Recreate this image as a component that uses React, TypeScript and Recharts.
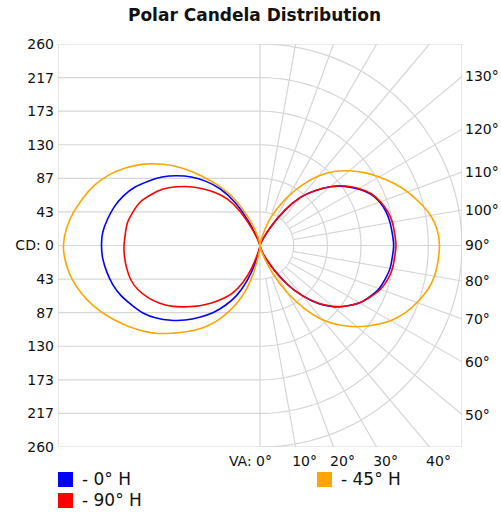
import React from 'react';
import { ScatterChart, Scatter, XAxis, YAxis } from 'recharts';

const FONT = '"DejaVu Sans", Verdana, sans-serif';

// vertical angles of the photometric data (0° = straight down, 180° = straight up)
const verticalAngles = [
  0, 5, 10, 15, 20, 25, 30, 35, 40, 45, 50, 55, 60, 65, 70, 75, 80, 85, 90,
  95, 100, 105, 110, 115, 120, 125, 130, 135, 140, 145, 150, 155, 160, 165, 170, 175, 180,
];

// candela, right half of the diagram
const cd0H = [0, 0, 0, 3, 10, 20, 37, 61, 84, 106, 123, 136, 148, 156, 163, 167, 170, 171, 172,
  171, 170, 168, 164, 157, 146, 133, 118, 100, 81, 55, 28, 10, 3, 0, 0, 0, 0];
const cd90H = [0, 0, 0, 3, 10, 20, 37, 61, 84, 105, 122, 136, 148, 157, 165, 170, 173, 174, 175,
  174, 173, 170, 165, 158, 147, 134, 118, 100, 81, 55, 28, 10, 3, 0, 0, 0, 0];
const cd45H = [0, 0, 1, 6, 19, 42, 70, 99, 125, 145, 163, 179, 194, 206, 215, 223, 228, 230, 231,
  229, 223, 213, 202, 190, 177, 164, 150, 135, 117, 96, 74, 53, 34, 15, 5, 0, 0];

// candela, left half (opposite planes)
const cd180H = [0, 1, 6, 22, 48, 71, 89, 106, 121, 136, 150, 163, 174, 182, 190, 196, 200, 203, 204,
  203, 199, 194, 187, 178, 166, 154, 140, 125, 108, 89, 64, 33, 10, 3, 0, 0, 0];
const cd270H = [0, 0, 2, 8, 30, 53, 71, 84, 97, 110, 123, 137, 149, 159, 167, 172, 174, 175, 175,
  174, 173, 169, 164, 155, 145, 132, 118, 103, 89, 73, 50, 22, 6, 1, 0, 0, 0];
const cd225H = [0, 5, 19, 47, 72, 93, 113, 130, 145, 160, 176, 190, 203, 216, 228, 238, 246, 251, 253,
  250, 244, 236, 227, 215, 200, 183, 163, 141, 117, 95, 74, 50, 29, 14, 5, 1, 0];

const maxCd = 260;
const cdLabels = ['260', '217', '173', '130', '87', '43', 'CD: 0', '43', '87', '130', '173', '217', '260'];
const topAngles = [180, 170, 160, 150, 140];
const bottomAngles = [0, 10, 20, 30, 40];
const sideAngles = [130, 120, 110, 100, 90, 80, 70, 60, 50];

const series = [
  { name: '- 0° H', color: '#0000ff', right: cd0H, left: cd180H },
  { name: '- 90° H', color: '#ff0000', right: cd90H, left: cd270H },
  { name: '- 45° H', color: '#ffa500', right: cd45H, left: cd225H },
];

const rad = (a: number) => (a * Math.PI) / 180;
const step = maxCd / 6;

const cdTicks = cdLabels.map((_, i) => maxCd - i * step);
const topTicks = topAngles.map(a => maxCd * Math.tan(rad(180 - a)));
const bottomTicks = bottomAngles.map(a => maxCd * Math.tan(rad(a)));
const sideTicks = sideAngles.map(a => (-maxCd * Math.cos(rad(a))) / Math.sin(rad(a)));

const lobe = (values: number[], side: number) => {
  const pts = values.map((cd, i) => ({
    x: side * cd * Math.sin(rad(verticalAngles[i])),
    y: -cd * Math.cos(rad(verticalAngles[i])),
  }));
  return pts.filter((p, i) => i === 0 || p.x !== pts[i - 1].x || p.y !== pts[i - 1].y);
};

// polar grid on the right, plain rows on the left
const gridPaths: { x: number; y: number }[][] = [];
gridPaths.push([{ x: -maxCd, y: -maxCd }, { x: maxCd, y: -maxCd }, { x: maxCd, y: maxCd }, { x: -maxCd, y: maxCd }, { x: -maxCd, y: -maxCd }]);
gridPaths.push([{ x: 0, y: -maxCd }, { x: 0, y: maxCd }]);
gridPaths.push([{ x: -maxCd, y: 0 }, { x: maxCd, y: 0 }]);
for (let k = 1; k < 6; k++) {
  gridPaths.push([{ x: -maxCd, y: k * step }, { x: 0, y: k * step }]);
  gridPaths.push([{ x: -maxCd, y: -k * step }, { x: 0, y: -k * step }]);
}
for (let k = 1; k <= 6; k++) {
  const r = k * step;
  const arc = [];
  for (let a = 0; a <= 180; a += 2) arc.push({ x: r * Math.sin(rad(a)), y: -r * Math.cos(rad(a)) });
  gridPaths.push(arc);
}
for (let a = 10; a < 180; a += 10) {
  const s = Math.sin(rad(a));
  const c = Math.cos(rad(a));
  const t = Math.min(maxCd / Math.abs(s), Math.abs(c) > 1e-9 ? maxCd / Math.abs(c) : Infinity);
  gridPaths.push([{ x: step * s, y: -step * c }, { x: t * s, y: -t * c }]);
}

const findIdx = (ticks: number[], v: number) => ticks.findIndex(t => Math.abs(t - v) < 1e-6);

const textProps = { fontSize: 14, fill: '#111', fontFamily: FONT };

const LeftTick = ({ x, y, payload }: any) => (
  <text x={x} y={y} dy="0.355em" textAnchor="end" {...textProps}>
    {cdLabels[findIdx(cdTicks, payload.value)]}
  </text>
);

const RightTick = ({ x, y, payload }: any) => (
  <text x={x} y={y} dy="0.355em" textAnchor="start" {...textProps}>
    {sideAngles[findIdx(sideTicks, payload.value)]}°
  </text>
);

const TopTick = ({ x, y, payload }: any) => {
  const i = findIdx(topTicks, payload.value);
  return (
    <text x={x + (i === 0 ? 0 : 7)} y={y} textAnchor="middle" {...textProps}>
      {topAngles[i]}°
    </text>
  );
};

const BottomTick = ({ x, y, payload }: any) => {
  const i = findIdx(bottomTicks, payload.value);
  if (i === 0) {
    return (
      <text x={x + 12} y={y} dy="0.71em" textAnchor="end" {...textProps}>
        VA: {bottomAngles[i]}°
      </text>
    );
  }
  return (
    <text x={x + 9} y={y} dy="0.71em" textAnchor="middle" {...textProps}>
      {bottomAngles[i]}°
    </text>
  );
};

const NoDot = () => <g />;

export default function App() {
  return (
    <div style={{ position: 'absolute', left: 0, top: 0, width: 501, height: 512, background: '#fff', fontFamily: FONT }}>
      <div
        style={{
          position: 'absolute', left: 0, top: 5, width: 509, textAlign: 'center',
          fontSize: 17, fontWeight: 'bold', lineHeight: '20px', color: '#111',
        }}
      >
        Polar Candela Distribution
      </div>
      <div style={{ position: 'absolute', left: 0, top: 0 }}>
        <ScatterChart width={501} height={512} margin={{ top: 24, right: 0, bottom: 45, left: 8 }}>
          <XAxis
            xAxisId="b" type="number" dataKey="x" domain={[-maxCd, maxCd]} allowDataOverflow
            ticks={bottomTicks} interval={0} height={20} axisLine={false} tickLine={false}
            tickSize={0} tickMargin={9} tick={BottomTick}
          />
          <XAxis
            xAxisId="t" type="number" orientation="top" domain={[-maxCd, maxCd]} allowDataOverflow
            ticks={topTicks} interval={0} height={20} axisLine={false} tickLine={false}
            tickSize={0} tickMargin={3} tick={TopTick}
          />
          <YAxis
            yAxisId="l" type="number" dataKey="y" domain={[-maxCd, maxCd]} allowDataOverflow
            ticks={cdTicks} interval={0} width={50} axisLine={false} tickLine={false}
            tickSize={0} tickMargin={4} tick={LeftTick}
          />
          <YAxis
            yAxisId="r" type="number" orientation="right" domain={[-maxCd, maxCd]} allowDataOverflow
            ticks={sideTicks} interval={0} width={39} axisLine={false} tickLine={false}
            tickSize={0} tickMargin={3} tick={RightTick}
          />
          {gridPaths.map((pts, i) => (
            <Scatter
              key={`g${i}`} xAxisId="b" yAxisId="l" data={pts} fill="none"
              line={{ stroke: '#d6d6d6', strokeWidth: 1.2 }} shape={NoDot}
              legendType="none" isAnimationActive={false}
            />
          ))}
          {series.flatMap(s => [
            <Scatter
              key={`${s.name}r`} xAxisId="b" yAxisId="l" data={lobe(s.right, 1)} fill={s.color}
              line={{ stroke: s.color, strokeWidth: 1.6 }} lineJointType="natural" shape={NoDot}
              legendType="none" isAnimationActive={false}
            />,
            <Scatter
              key={`${s.name}l`} xAxisId="b" yAxisId="l" data={lobe(s.left, -1)} fill={s.color}
              line={{ stroke: s.color, strokeWidth: 1.6 }} lineJointType="natural" shape={NoDot}
              legendType="none" isAnimationActive={false}
            />,
          ])}
        </ScatterChart>
      </div>
      {[
        { s: series[0], left: 58, top: 472 },
        { s: series[1], left: 58, top: 493 },
        { s: series[2], left: 317, top: 472 },
      ].map(({ s, left, top }) => (
        <div key={s.name} style={{ position: 'absolute', left, top, display: 'flex', alignItems: 'center', height: 15 }}>
          <div style={{ width: 15, height: 15, background: s.color }} />
          <span style={{ marginLeft: 9, fontSize: 17, color: '#111', lineHeight: '15px', whiteSpace: 'nowrap' }}>{s.name}</span>
        </div>
      ))}
    </div>
  );
}
